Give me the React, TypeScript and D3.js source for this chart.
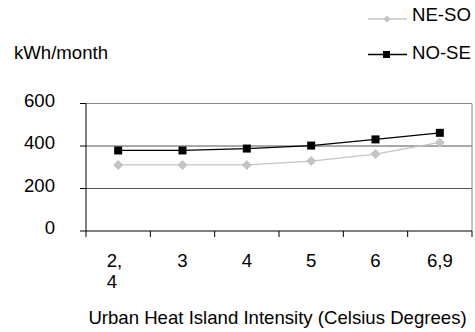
import React from "react";
import * as d3 from "d3";

const categories = ["2,4", "3", "4", "5", "6", "6,9"];
const neSo = [311, 311, 311, 329, 362, 417];
const noSe = [379, 379, 388, 402, 431, 462];
const yTicks = [0, 200, 400, 600];
const seriesNames = ["NE-SO", "NO-SE"];

const W = 475;
const H = 332;
const FONT = "'Liberation Sans', Arial, sans-serif";
const FS = 18.6;

export default function App() {
  const left = 86, right = 472, top = 103.5, bottom = 231;
  const x = d3.scaleBand<string>().domain(categories).range([left, right]);
  const y = d3.scaleLinear().domain([0, 600]).range([bottom, top]);
  const cx = (c: string) => (x(c) as number) + x.bandwidth() / 2;
  const line = d3
    .line<number>()
    .x((_, i) => cx(categories[i]))
    .y((d) => y(d));
  const diamond = (px: number, py: number, r: number) =>
    `M${px},${py - r}L${px + r},${py}L${px},${py + r}L${px - r},${py}Z`;
  const boundaries = [...categories.map((c) => x(c) as number), right];

  return (
    <svg
      width={W}
      height={H}
      style={{ position: "absolute", left: 0, top: 0, background: "#fff" }}
      fontFamily={FONT}
    >
      {/* gridlines */}
      {yTicks.filter((t) => t > 0).map((t) => (
        <line key={t} x1={left} x2={right} y1={y(t)} y2={y(t)}
          stroke={t === 600 ? "#8a8a8a" : "#555"} strokeWidth={1} />
      ))}
      <line x1={right} x2={right} y1={top} y2={bottom} stroke="#8a8a8a" />
      {/* y axis */}
      <line x1={left} x2={left} y1={top} y2={bottom} stroke="#000" />
      {yTicks.map((t) => (
        <g key={t}>
          <line x1={left - 6} x2={left} y1={y(t)} y2={y(t)} stroke="#000" />
          <text x={55} y={y(t) + 3} textAnchor="end" fontSize={FS} fill="#000">{t}</text>
        </g>
      ))}
      {/* x axis */}
      <line x1={left} x2={right} y1={bottom} y2={bottom} stroke="#000" />
      {boundaries.map((b, i) => (
        <line key={i} x1={b} x2={b} y1={bottom} y2={bottom + 6} stroke="#000" />
      ))}
      {categories.map((c) => {
        const parts = c.includes(",") && categories.indexOf(c) === 0
          ? [c.slice(0, c.indexOf(",") + 1), c.slice(c.indexOf(",") + 1)]
          : [c];
        if (parts.length === 1)
          return (
            <text key={c} x={cx(c)} y={267} textAnchor="middle" fontSize={FS}>{c}</text>
          );
        return (
          <text key={c} x={cx(c) - 11.5} y={267} textAnchor="start" fontSize={FS}>
            <tspan x={cx(c) - 11.5}>{parts[0]}</tspan>
            <tspan x={cx(c) - 11.5} dy={21}>{parts[1]}</tspan>
          </text>
        );
      })}
      {/* series */}
      <path d={line(neSo) || ""} fill="none" stroke="#c4c4c4" strokeWidth={1.3} />
      {neSo.map((v, i) => (
        <path key={i} d={diamond(cx(categories[i]), y(v), 5)} fill="#c4c4c4" />
      ))}
      <path d={line(noSe) || ""} fill="none" stroke="#000" strokeWidth={1.3} />
      {noSe.map((v, i) => (
        <rect key={i} x={cx(categories[i]) - 4} y={y(v) - 4} width={8} height={8} fill="#000" />
      ))}
      {/* axis titles */}
      <text x={14} y={59} fontSize={FS}>kWh/month</text>
      <text x={277.5} y={324} textAnchor="middle" fontSize={FS}>
        Urban Heat Island Intensity (Celsius Degrees)
      </text>
      {/* legend */}
      <line x1={368} x2={407} y1={19} y2={19} stroke="#c4c4c4" strokeWidth={1.3} />
      <path d={diamond(387, 19, 3.5)} fill="#c4c4c4" />
      <text x={412} y={21} fontSize={FS}>{seriesNames[0]}</text>
      <line x1={368} x2={407} y1={54.5} y2={54.5} stroke="#000" strokeWidth={1.3} />
      <rect x={383} y={51} width={7} height={7} fill="#000" />
      <text x={412} y={59} fontSize={FS}>{seriesNames[1]}</text>
    </svg>
  );
}
